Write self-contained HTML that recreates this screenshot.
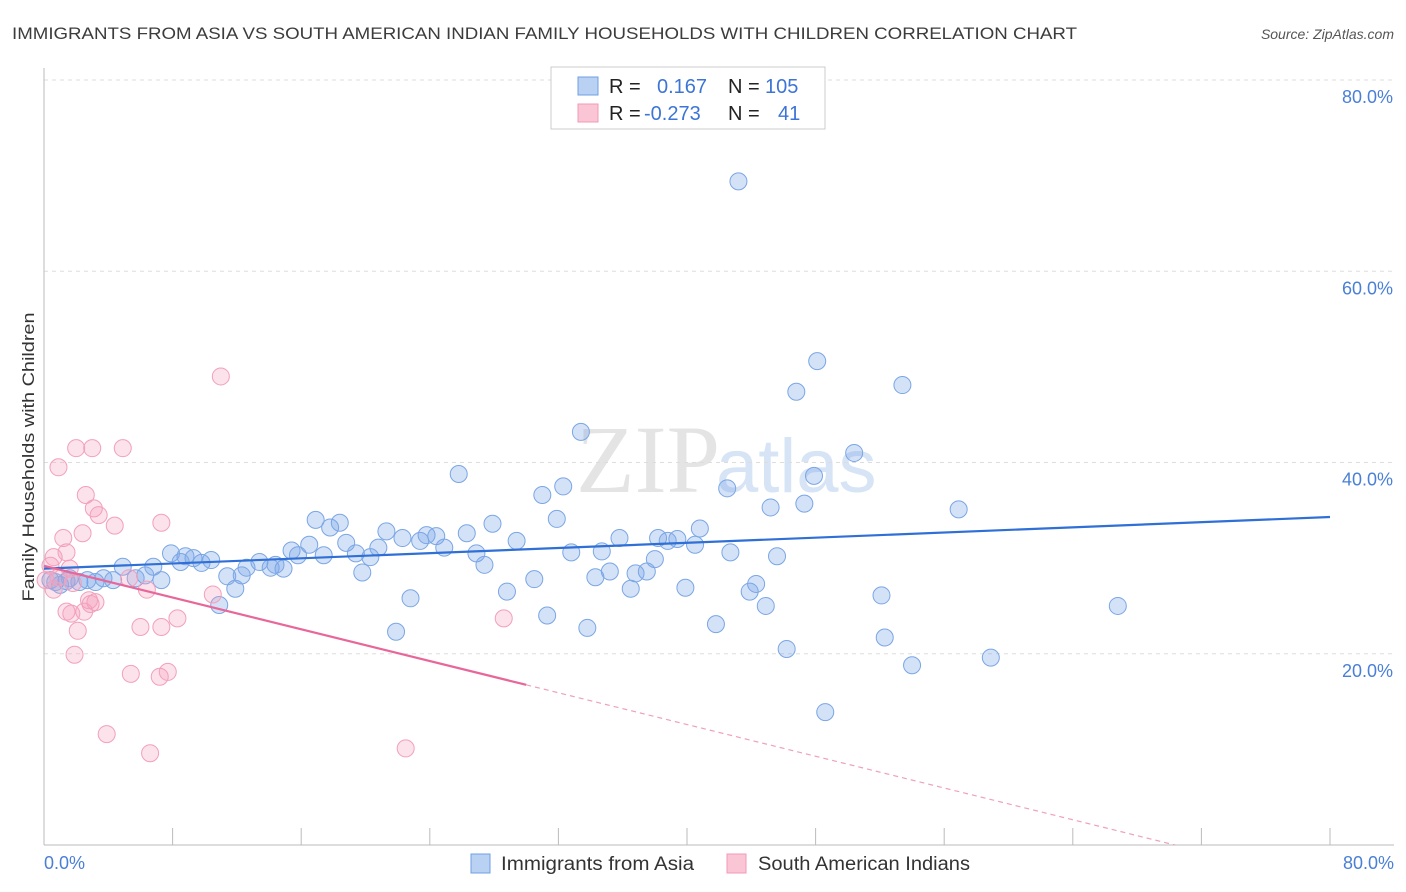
<!DOCTYPE html>
<html><head><meta charset="utf-8"><style>
body{margin:0;background:#fff;font-family:"Liberation Sans",sans-serif;}
#wrap{position:relative;width:1406px;height:892px;overflow:hidden;}
</style></head><body>
<div id="wrap">
<svg id="chart" width="1406" height="892" xmlns="http://www.w3.org/2000/svg">
<text x="12" y="39" font-size="17" fill="#3c3c3c" textLength="1065" lengthAdjust="spacingAndGlyphs">IMMIGRANTS FROM ASIA VS SOUTH AMERICAN INDIAN FAMILY HOUSEHOLDS WITH CHILDREN CORRELATION CHART</text>
<text x="1394" y="39" font-size="14" fill="#555" text-anchor="end" font-style="italic">Source: ZipAtlas.com</text>
<text x="720" y="492" font-size="96" fill="#e4e4e4" text-anchor="end" font-family="Liberation Serif">ZIP</text>
<text x="716" y="492" font-size="76" fill="#d6e4f5">atlas</text>
<g id="grid"></g><g id="marks"></g><g id="lines"></g>
<text transform="translate(34,457) rotate(-90)" font-size="17" fill="#333" text-anchor="middle" textLength="289" lengthAdjust="spacingAndGlyphs">Family Households with Children</text>
<text x="44" y="869" font-size="18" fill="#4a7fd6">0.0%</text>
<text x="1394" y="869" font-size="18" fill="#4a7fd6" text-anchor="end">80.0%</text>
<g>
<rect x="551" y="67" width="274" height="62" fill="#fff" stroke="#ccc"/>
<rect x="578" y="77" width="20" height="18" fill="#b9d2f3" stroke="#6f9fe0"/>
<rect x="578" y="104" width="20" height="18" fill="#fac6d6" stroke="#f09ab4"/>
<text y="93" font-size="20" fill="#222"><tspan x="609">R =</tspan><tspan x="657" fill="#3d75d6">0.167</tspan><tspan x="728">N =</tspan><tspan x="765" fill="#3d75d6">105</tspan></text>
<text y="120" font-size="20" fill="#222"><tspan x="609">R =</tspan><tspan x="644" fill="#3d75d6">-0.273</tspan><tspan x="728">N =</tspan><tspan x="778" fill="#3d75d6">41</tspan></text>
</g>
<g>
<rect x="471" y="854" width="19" height="19" fill="#b9d2f3" stroke="#6f9fe0"/>
<text x="501" y="870" font-size="19" fill="#333" textLength="193" lengthAdjust="spacingAndGlyphs">Immigrants from Asia</text>
<rect x="727" y="854" width="19" height="19" fill="#fac6d6" stroke="#f09ab4"/>
<text x="758" y="870" font-size="19" fill="#333" textLength="212" lengthAdjust="spacingAndGlyphs">South American Indians</text>
</g>
</svg>
<script>
const yTicks=[20,40,60,80];
const xTicks=[0,8,16,24,32,40,48,56,64,72,80];
const blueX=[43.2,48.1,46.8,53.4,33.4,50.4,25.8,47.9,42.5,32.3,31.0,45.2,47.3,56.9,16.9,18.4,17.8,31.9,27.9,21.3,40.8,26.3,22.3,23.8,24.4,23.4,35.8,38.2,39.4,38.8,29.4,18.8,16.5,15.4,40.5,20.8,24.9,32.8,34.7,42.7,45.6,38.0,7.9,8.8,10.4,9.3,26.9,15.8,17.4,19.4,20.3,9.8,8.5,13.4,6.8,4.9,12.6,14.1,14.9,14.4,27.4,19.8,36.8,37.5,35.2,34.3,11.4,12.3,7.3,5.7,3.7,3.2,2.2,1.4,0.7,1.0,30.5,44.3,36.5,39.9,43.9,28.8,11.9,22.8,52.1,44.9,66.8,10.9,31.3,41.8,33.8,21.9,52.3,46.2,54.0,58.9,48.6,1.6,0.4,4.3,6.3,2.7];
const blueY=[69.4,50.6,47.4,48.1,43.2,41.0,38.8,38.6,37.3,37.5,36.6,35.3,35.7,35.1,34.0,33.7,33.2,34.1,33.6,32.8,33.1,32.6,32.1,32.4,32.3,31.8,32.1,32.1,32.0,31.8,31.8,31.6,31.4,30.8,31.4,31.1,31.1,30.6,30.7,30.6,30.2,29.9,30.5,30.2,29.8,30.0,30.5,30.3,30.3,30.5,30.1,29.5,29.6,29.6,29.1,29.1,29.0,29.0,28.9,29.3,29.3,28.5,28.4,28.6,28.6,28.0,28.1,28.2,27.7,27.9,27.9,27.5,27.5,27.6,27.5,27.2,27.8,27.3,26.8,26.9,26.5,26.5,26.8,25.8,26.1,25.0,25.0,25.1,24.0,23.1,22.7,22.3,21.7,20.5,18.8,19.6,13.9,27.9,27.7,27.7,28.2,27.7];
const pinkX=[11.0,0.9,2.0,3.0,4.9,2.6,3.1,3.4,2.4,4.4,7.3,1.2,1.4,0.6,0.4,1.6,0.9,0.1,1.8,0.6,6.4,2.8,3.2,2.9,10.5,1.4,1.7,2.5,8.3,28.6,6.0,7.3,2.1,1.9,5.4,7.2,7.7,3.9,6.6,22.5,5.3];
const pinkY=[49.0,39.5,41.5,41.5,41.5,36.6,35.2,34.5,32.6,33.4,33.7,32.1,30.6,30.1,29.2,28.9,28.0,27.7,27.4,26.7,26.7,25.6,25.4,25.2,26.2,24.4,24.2,24.4,23.7,23.7,22.8,22.8,22.4,19.9,17.9,17.6,18.1,11.6,9.6,10.1,27.9];
const blueTrend=[28.9,34.3];
const pinkTrend=[29.2,-4.0];
const pinkSolidEnd=30.0;
const NS="http://www.w3.org/2000/svg";
const X0=44,X1=1330,Y0=845,Y80=80;
const sx=v=>X0+(v/80)*(X1-X0);
const sy=v=>Y0-(v/80)*(Y0-Y80);
function mk(t,a,p){const e=document.createElementNS(NS,t);for(const k in a)e.setAttribute(k,a[k]);p.appendChild(e);return e;}
const grid=document.getElementById('grid');
yTicks.forEach(t=>{
 const l=mk('line',{x1:X0,x2:1394,y1:sy(t),y2:sy(t),stroke:'#ddd','stroke-dasharray':'4,4'},grid);
 
 
 const tx=mk('text',{x:1393,y:sy(t)+23,'font-size':18,fill:'#4a7fd6','text-anchor':'end'},grid);
 tx.textContent=t.toFixed(1)+'%';
 
 
});
const ax=mk('line',{x1:X0,x2:X0,y1:68,y2:Y0,stroke:'#bbb'},grid);


const bx=mk('line',{x1:X0,x2:1394,y1:Y0,y2:Y0,stroke:'#bbb'},grid);


xTicks.forEach(t=>{
 const l=mk('line',{x1:sx(t),x2:sx(t),y1:Y0,y2:Y0-17,stroke:'#bbb'},grid);
 
 
});
const marks=document.getElementById('marks');
blueX.forEach((x,i)=>{
 const c=mk('circle',{cx:sx(x),cy:sy(blueY[i]),r:8.5,fill:'rgba(120,165,232,0.32)',stroke:'#7aa6e4','stroke-width':1},marks);
 
 
});
pinkX.forEach((x,i)=>{
 const c=mk('circle',{cx:sx(x),cy:sy(pinkY[i]),r:8.5,fill:'rgba(245,160,190,0.3)',stroke:'#f2a0bb','stroke-width':1},marks);
 
 
});
const lines=document.getElementById('lines');
const bl=mk('line',{x1:sx(0),y1:sy(blueTrend[0]),x2:sx(80),y2:sy(blueTrend[1]),stroke:'#2f6fd6','stroke-width':2.2},lines);


const pv=x=>pinkTrend[0]+(pinkTrend[1]-pinkTrend[0])*x/80;
const pl=mk('line',{x1:sx(0),y1:sy(pv(0)),x2:sx(pinkSolidEnd),y2:sy(pv(pinkSolidEnd)),stroke:'#e8679a','stroke-width':2.2},lines);


const xz=-pinkTrend[0]/(pinkTrend[1]-pinkTrend[0])*80;
const pd=mk('line',{x1:sx(pinkSolidEnd),y1:sy(pv(pinkSolidEnd)),x2:sx(xz),y2:sy(0),stroke:'#eea0bd','stroke-width':1.2,'stroke-dasharray':'5,4'},lines);


</script>
</div>
</body></html>
